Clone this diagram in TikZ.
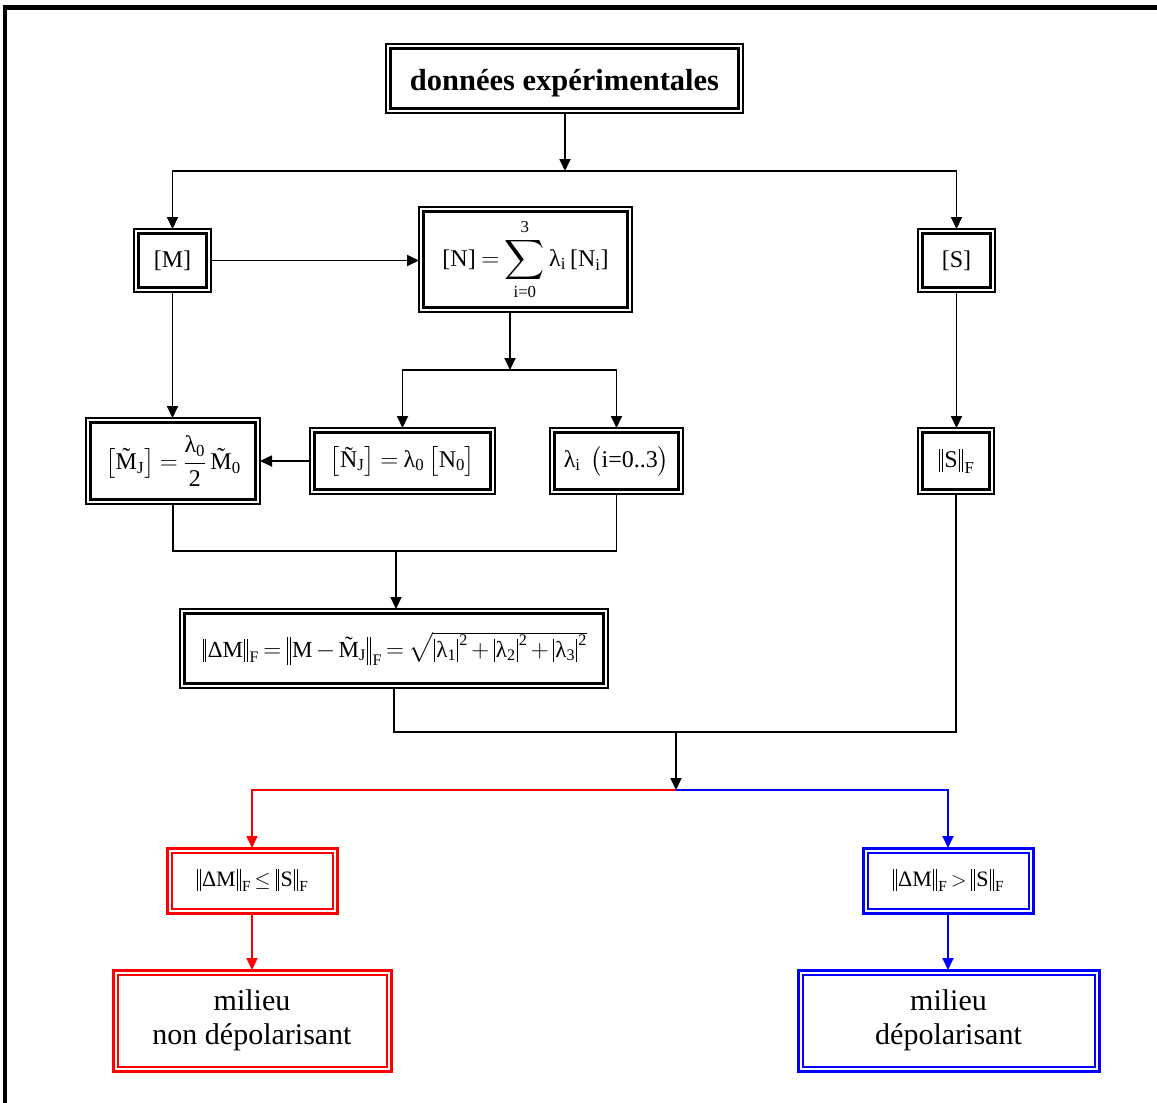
\documentclass[tikz,border=0pt]{standalone}
\usepackage{amsmath}
\usepackage{fontspec}
\setmainfont{Liberation Serif}
\usetikzlibrary{arrows.meta}
\newcommand\Mt{\text{\ooalign{M\cr\hidewidth\raisebox{0.2em}{\char"02DC}\hidewidth\cr}}}
\newcommand\tx[1]{\text{#1}}
% thin norm and absolute bars
\newcommand\nb{\mathord{\text{\kern0.06em\rule[-0.2em]{0.04em}{0.98em}\kern0.09em\rule[-0.2em]{0.04em}{0.98em}\kern0.06em}}}
\newcommand\nbB{\mathord{\text{\kern0.06em\rule[-0.32em]{0.04em}{1.22em}\kern0.09em\rule[-0.32em]{0.04em}{1.22em}\kern0.06em}}}
\newcommand\vb{\mathord{\text{\kern0.05em\rule[-0.2em]{0.04em}{0.98em}\kern0.05em}}}
\newcommand\bigsum{\mathop{\vcenter{\hbox{\scalebox{1.12}{$\displaystyle\sum$}}}}}
\newcommand\tightmath{\thickmuskip=4mu\relax\medmuskip=3mu\relax}
\newcommand\tightermath{\thickmuskip=3mu\relax\medmuskip=2.5mu\relax}
\tikzset{
  box/.style={draw, line width=3.2pt, inner sep=0pt, outer sep=4.5pt, rectangle,
    font=\fontsize{24}{28}\selectfont, execute at begin node=\tightmath},
  small/.style={font=\fontsize{22}{26}\selectfont, execute at begin node=\tightermath},
  rbox/.style={box, draw=red, line width=2pt},
  bbox/.style={box, draw=blue, line width=2pt},
  arr/.style={-{Triangle[length=12pt,width=11pt]}, line width=1.8pt},
  plain/.style={line width=1.8pt},
  big/.style={font=\fontsize{30}{34}\selectfont, align=center},
}
\begin{document}
\begin{tikzpicture}[x=1pt,y=-1pt]
\useasboundingbox (0,0) rectangle (1157,1103);
% frame
\fill (3,5) rectangle (1157,10);
\fill (3,5) rectangle (6.5,1103);
% nodes
\node[box, minimum width=348pt, minimum height=60pt, text height=24pt, text depth=0pt,
  font=\fontsize{30.5}{34}\selectfont\bfseries] (top) at (564.5,78.5) {données expérimentales};
\node[box, minimum width=68pt, minimum height=54pt] (M) at (172.5,260.5) {[M]};
\node[box, minimum width=204pt, minimum height=96pt] (N) at (525.5,259.5)
  {$\tx{[N]} = \bigsum\limits_{\tx{i=0}}^{\tx{3}}\tx{λ}_{\tx{i}}\,\tx{[N}_{\tx{i}}\tx{]}$};
\node[box, minimum width=68pt, minimum height=54pt] (S) at (956.5,260.5) {[S]};
\node[box, minimum width=165pt, minimum height=77pt] (MJ) at (173,461)
  {$\bigl[\Mt_{\tx{J}}\bigr] = \dfrac{\tx{λ}_{\tx{0}}}{\tx{2}}\,\Mt_{\tx{0}}$};
\node[box, minimum width=176pt, minimum height=57pt] (NJ) at (402.5,461)
  {$\bigl[\tx{Ñ}_{\tx{J}}\bigr] = \tx{λ}_{\tx{0}}\,\bigl[\tx{N}_{\tx{0}}\bigr]$};
\node[box, minimum width=124pt, minimum height=57pt] (lam) at (616.5,461)
  {$\tx{λ}_{\tx{i}}\;\,\bigl(\tx{i=0..3}\bigr)$};
\node[box, minimum width=67pt, minimum height=57pt] (SF) at (956,461)
  {$\nb\tx{S}\nb_{\tx{F}}$};
\node[box, font=\fontsize{23}{27}\selectfont, execute at begin node=\tightermath, minimum width=419pt, minimum height=70pt] (DM) at (394,648.5)
  {$\nb\tx{ΔM}\nb_{\tx{F}} = \nbB\tx{M} - \Mt_{\tx{J}}\nbB_{\tx{F}} = \sqrt{\vb\tx{λ}_{\tx{1}}\vb^{\tx{2}} + \vb\tx{λ}_{\tx{2}}\vb^{\tx{2}} + \vb\tx{λ}_{\tx{3}}\vb^{\tx{2}}}$\hspace{14pt}};
\node[rbox, small, minimum width=161pt, minimum height=56pt] (r1) at (252,880.5)
  {$\nb\tx{ΔM}\nb_{\tx{F}} \le \nb\tx{S}\nb_{\tx{F}}$\hspace{14pt}};
\node[bbox, small, minimum width=161pt, minimum height=56pt] (b1) at (948,880.5)
  {$\nb\tx{ΔM}\nb_{\tx{F}} > \nb\tx{S}\nb_{\tx{F}}$\hspace{12pt}};
\node[rbox, big, minimum width=269pt, minimum height=92pt] (r2) at (252,1020.5) {milieu\\non dépolarisant};
\node[bbox, big, minimum width=292pt, minimum height=92pt] (b2) at (948.5,1020.5) {milieu\\dépolarisant};
% outer lines of double boxes
\foreach \n in {top,M,N,S,MJ,NJ,lam,SF,DM}
  \draw[line width=2pt] (\n.north west) rectangle (\n.south east);
\foreach \n/\c in {r1/red,r2/red,b1/blue,b2/blue}
  \draw[\c, line width=3pt] (\n.north west) rectangle (\n.south east);
% connectors
\coordinate (j1) at (565,171);
\coordinate (j2) at (510,370);
\coordinate (j3) at (396,551);
\coordinate (j4) at (676,732);
\coordinate (j5) at (676,790);
\draw[arr] (top.south -| j1) -- (j1);
\draw[arr] (j1) -| (M.north);
\draw[arr] (j1) -| (S.north);
\draw[arr] (M.east) -- (M.east -| N.west);
\draw[arr] (N.south -| j2) -- (j2);
\draw[arr] (j2) -| (NJ.north);
\draw[arr] (j2) -| (lam.north);
\draw[arr] (M.south) -- (M.south |- MJ.north);
\draw[arr] (NJ.west) -- (MJ.east);
\draw[arr] (S.south) -- (S.south |- SF.north);
\draw[plain] (MJ.south) -- (MJ.south |- j3) -- (lam.south |- j3) -- (lam.south);
\draw[arr] (j3) -- (j3 |- DM.north);
\draw[plain] (DM.south) -- (DM.south |- j4) -- (SF.south |- j4) -- (SF.south);
\draw[arr] (j4) -- (j5);
\draw[arr, red] (j5) -| (r1.north);
\draw[arr, blue] (j5) -| (b1.north);
\draw[arr, red] (r1.south) -- (r1.south |- r2.north);
\draw[arr, blue] (b1.south) -- (b1.south |- b2.north);
\end{tikzpicture}
\end{document}
